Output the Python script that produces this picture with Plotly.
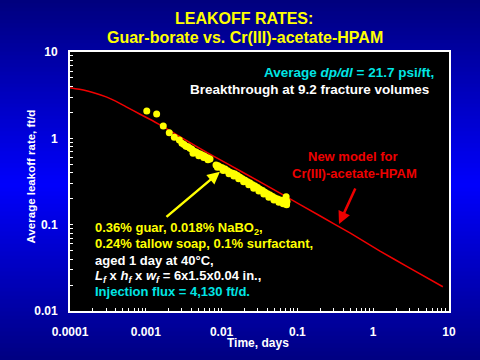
import math
import plotly.graph_objects as go

# ---- data ----
guar_time_days = [0.00103, 0.00139, 0.00170, 0.00204, 0.00238, 0.00277,
                  # band centre
                  0.00300, 0.00339, 0.00383, 0.00432, 0.00488, 0.00551, 0.00623, 0.00703,
                  0.00844, 0.00953, 0.0111, 0.0129, 0.0150, 0.0175, 0.0204, 0.0237,
                  0.0276, 0.0321, 0.0374, 0.0435, 0.0506, 0.0590, 0.0666, 0.0729,
                  # band upper edge
                  0.00320, 0.00360, 0.00405, 0.00460, 0.00520, 0.00590, 0.00660,
                  0.00900, 0.0102, 0.0120, 0.0140, 0.0162, 0.0188, 0.0220, 0.0256,
                  0.0298, 0.0347, 0.0404, 0.0470, 0.0548, 0.0620,
                  # band lower edge
                  0.0042, 0.0050, 0.0058, 0.0066, 0.0088, 0.0105, 0.0125, 0.0145,
                  0.0168, 0.0195, 0.0228, 0.0265, 0.0310, 0.0360, 0.0420, 0.0490,
                  0.0570, 0.0650,
                  # end cluster
                  0.0690, 0.0700, 0.0710, 0.0720]
guar_leakoff = [2.07, 1.91, 1.39, 1.16, 1.03, 0.955,
                0.88, 0.81, 0.77, 0.71, 0.67, 0.64, 0.605, 0.575,
                0.49, 0.465, 0.44, 0.405, 0.385, 0.355, 0.328, 0.303,
                0.280, 0.258, 0.238, 0.220, 0.203, 0.193, 0.185, 0.185,
                0.85, 0.80, 0.745, 0.695, 0.66, 0.625, 0.59,
                0.48, 0.455, 0.42, 0.395, 0.37, 0.34, 0.315, 0.29,
                0.27, 0.248, 0.228, 0.212, 0.198, 0.19,
                0.67, 0.63, 0.60, 0.565, 0.462, 0.425, 0.39, 0.365,
                0.34, 0.315, 0.29, 0.265, 0.245, 0.226, 0.208, 0.193,
                0.182, 0.175,
                0.176, 0.20, 0.21, 0.17]

model_time_days = [1.0e-4, 1.5e-4, 2.0e-4, 3.0e-4, 4.0e-4, 5.6e-4, 8.4e-4, 1.2e-3,
                   1.5e-3, 3.0e-3, 7.0e-3, 0.02, 0.059, 0.2, 0.5, 1.23, 3.0, 8.3]
model_leakoff = [3.85, 3.62, 3.40, 3.02, 2.70, 2.30, 1.90, 1.62,
                 1.45, 1.01, 0.658, 0.394, 0.232, 0.126, 0.0797, 0.0494, 0.0316, 0.0191]

x_decades = [0.0001, 0.001, 0.01, 0.1, 1, 10]
x_labels = ["0.0001", "0.001", "0.01", "0.1", "1", "10"]
y_decades = [0.01, 0.1, 1, 10]
y_labels = ["0.01", "0.1", "1", "10"]

# ---- tick lists (decade labels + unlabeled minor ticks) ----
def log_ticks(decades, labels):
    vals, texts = [], []
    for i, d in enumerate(decades):
        vals.append(d)
        texts.append("<b>" + labels[i] + "</b>")
        if i < len(decades) - 1:
            for m in range(2, 10):
                vals.append(d * m)
                texts.append("")
    return vals, texts

xv, xt = log_ticks(x_decades, x_labels)
yv, yt = log_ticks(y_decades, y_labels)

FONT = "Arial, Liberation Sans, sans-serif"
W, H = 480, 360
ML, MR, MT, MB = 70, 31, 52, 49
PW, PH = W - ML - MR, H - MT - MB

fig = go.Figure()

fig.add_trace(go.Scatter(
    x=model_time_days, y=model_leakoff, mode="lines",
    line=dict(color="#f00000", width=1.5, shape="spline", smoothing=0.3),
    hoverinfo="skip", showlegend=False))

fig.add_trace(go.Scatter(
    x=guar_time_days, y=guar_leakoff, mode="markers",
    marker=dict(color="#ffff00", size=7, line=dict(width=0)),
    showlegend=False))

# ---- gradient background (paper) ----
def blue_at(py):
    peak = 185.0
    if py <= peak:
        b = 125 + (252 - 125) * (py / peak)
    else:
        b = 252 - (252 - 130) * ((py - peak) / (H - peak))
    return "rgb(0,0,%d)" % int(round(b))

shapes = []
step = 4
for py in range(0, H, step):
    y0 = (H - MB - (py + step)) / PH
    y1 = (H - MB - py) / PH
    shapes.append(dict(type="rect", xref="paper", yref="paper",
                       x0=-ML / PW - 0.01, x1=1 + MR / PW + 0.01, y0=y0 - 0.002, y1=y1 + 0.002,
                       fillcolor=blue_at(py + step / 2), line=dict(width=0), layer="below"))
shapes.append(dict(type="rect", xref="paper", yref="paper", x0=0, x1=1, y0=0, y1=1,
                   fillcolor="black", line=dict(width=0), layer="below"))

def px_x(p):
    return (p - ML) / PW

def px_y(p):
    return (H - MB - p) / PH

ann = []
def txt(text, x, y, color, size, xanchor="left", angle=0):
    ann.append(dict(text=text, xref="paper", yref="paper", x=x, y=y,
                    xanchor=xanchor, yanchor="middle", showarrow=False,
                    textangle=angle, font=dict(family=FONT, size=size, color=color)))

txt("<b>LEAKOFF RATES:</b>", px_x(243.5), px_y(18.5), "#ffff00", 16, "center")
txt("<b>Guar-borate vs. Cr(III)-acetate-HPAM</b>", px_x(245), px_y(37.5), "#ffff00", 16, "center")

txt("<b>Average <i>dp/dl</i> = 21.7 psi/ft,</b>", px_x(436), px_y(72.7), "#00e5e5", 13.5, "right")
txt("<b>Breakthrough at 9.2 fracture volumes</b>", px_x(431), px_y(89), "white", 13.5, "right")

txt("<b>New model for</b>", px_x(352.5), px_y(156.7), "#ee0000", 13, "center")
txt("<b>Cr(III)-acetate-HPAM</b>", px_x(354.5), px_y(173), "#ee0000", 13, "center")

txt("<b>0.36% guar, 0.018% NaBO<sub>2</sub>,</b>", px_x(92.7), px_y(228.3), "#ffff00", 13)
txt("<b>0.24% tallow soap, 0.1% surfactant,</b>", px_x(92.7), px_y(243.3), "#ffff00", 13)
txt("<b>aged 1 day at 40°C,</b>", px_x(92.7), px_y(260), "white", 13)
txt("<b><i>L</i><sub><i>f</i></sub> x <i>h</i><sub><i>f</i></sub> x <i>w</i><sub><i>f</i></sub> = 6x1.5x0.04 in.,</b>",
    px_x(92.7), px_y(276), "white", 13)
txt("<b>Injection flux = 4,130 ft/d.</b>", px_x(92.7), px_y(291.7), "#00e5e5", 13)

txt("<b>Time, days</b>", px_x(257.5), px_y(343), "white", 12, "center")
txt("<b>Average leakoff rate, ft/d</b>", px_x(30.7), px_y(176.7), "white", 11.5, "center", -90)

# arrows (log-axis annotations use log10 coordinates)
ann.append(dict(x=math.log10(0.0095), y=math.log10(0.41), ax=math.log10(0.00179), ay=math.log10(0.119),
                xref="x", yref="y", axref="x", ayref="y", text="", showarrow=True,
                arrowhead=2, arrowsize=1, arrowwidth=2.5, arrowcolor="#ffff00"))
ann.append(dict(x=math.log10(0.354), y=math.log10(0.1016), ax=math.log10(0.593), ay=math.log10(0.273),
                xref="x", yref="y", axref="x", ayref="y", text="", showarrow=True,
                arrowhead=2, arrowsize=1, arrowwidth=2.5, arrowcolor="#ee0000"))

axis_common = dict(type="log", showgrid=False, zeroline=False, showline=True,
                   linecolor="white", linewidth=2, mirror=True,
                   ticks="inside", ticklen=3, tickwidth=1, tickcolor="white",
                   tickmode="array", tickangle=0,
                   tickfont=dict(family=FONT, size=12, color="white"))

fig.update_layout(
    width=W, height=H,
    margin=dict(l=ML, r=MR, t=MT, b=MB),
    paper_bgcolor="#000080",
    plot_bgcolor="black",
    shapes=shapes,
    annotations=ann,
    showlegend=False,
    hovermode=False,
    xaxis=dict(range=[-4, 1], tickvals=xv, ticktext=xt, ticklabelstandoff=9, **axis_common),
    yaxis=dict(range=[-2, 1], tickvals=yv, ticktext=yt, ticklabelstandoff=8, **axis_common),
)

fig.write_html("out.html", config={"displayModeBar": False, "staticPlot": True},
               post_script="document.body.style.margin='0';document.body.style.padding='0';")
